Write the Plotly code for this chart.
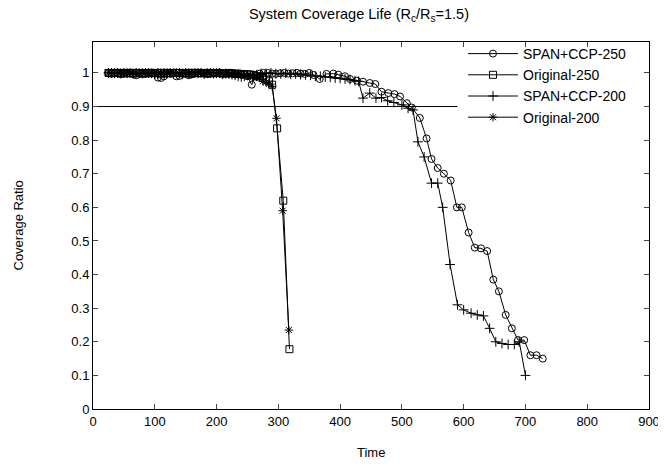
import plotly.graph_objects as go

# ---- data ----
time_early = [25, 30, 35, 40, 45, 50, 55, 60, 65, 70, 75, 80, 85, 90, 95, 100,
              105, 110, 115, 120, 125, 130, 135, 140, 145, 150, 155, 160, 165,
              170, 175, 180, 185, 190, 195, 200, 205, 210, 215, 220, 225, 230,
              235, 240, 245, 250]

span250_early = [1.0, 0.998, 1.0, 0.999, 0.997, 1.0, 0.998, 0.999, 0.996, 0.993,
                 1.0, 0.998, 0.997, 1.0, 0.999, 0.998, 0.986, 0.985, 0.99, 0.999,
                 0.998, 1.0, 0.99, 0.991, 0.998, 0.999, 0.993, 0.996, 1.0, 0.998,
                 0.999, 1.0, 0.997, 0.998, 1.0, 0.999, 0.998, 0.997, 1.0, 0.998,
                 0.999, 0.996, 0.998, 0.995, 0.997, 0.99]
span250_late_t = [257, 263, 270, 276, 283, 290, 296, 303, 310, 316, 323, 330, 336,
                  343, 350, 357, 367, 378, 389, 397, 408, 416, 427, 437, 448, 457,
                  467, 478, 488, 497, 508, 516, 529, 540, 548, 558, 568, 579, 589,
                  597, 608, 618, 628, 638, 648, 657, 668, 678, 688, 698, 708, 718, 728]
span250_late = [0.965, 0.99, 0.998, 1.0, 1.0, 0.998, 0.997, 0.999, 1.0, 0.998,
                0.999, 1.0, 0.998, 0.997, 1.0, 0.994, 0.982, 0.997, 0.998, 0.995,
                0.99, 0.982, 0.977, 0.974, 0.97, 0.967, 0.944, 0.94, 0.937, 0.93,
                0.91, 0.897, 0.866, 0.805, 0.744, 0.717, 0.70, 0.68, 0.60, 0.60,
                0.525, 0.48, 0.478, 0.47, 0.385, 0.35, 0.28, 0.24, 0.205, 0.205,
                0.16, 0.16, 0.15]

span200_early = [1.0, 1.0, 0.999, 1.0, 0.998, 1.0, 0.999, 1.0, 0.997, 1.0,
                 0.999, 0.998, 1.0, 1.0, 0.999, 0.997, 1.0, 0.998, 1.0, 0.999,
                 1.0, 0.998, 0.999, 1.0, 0.997, 1.0, 0.999, 0.998, 1.0, 0.999,
                 1.0, 0.997, 0.999, 1.0, 0.998, 0.999, 1.0, 0.996, 0.998, 0.997,
                 0.995, 0.993, 0.99, 0.988, 0.99, 0.993]
span200_late_t = [258, 265, 272, 280, 288, 296, 304, 312, 320, 328, 336, 344, 352,
                  360, 368, 376, 384, 392, 400, 408, 416, 424, 430, 437, 448, 458,
                  467, 477, 487, 500, 510, 518, 526, 536, 548, 558, 566, 578, 590,
                  600, 612, 622, 632, 642, 652, 662, 672, 682, 690, 700]
span200_late = [0.99, 0.995, 0.998, 0.998, 1.0, 0.998, 0.997, 0.999, 0.996, 0.997,
                0.995, 0.994, 0.993, 0.99, 0.99, 0.988, 0.987, 0.985, 0.984, 0.982,
                0.98, 0.977, 0.975, 0.925, 0.94, 0.925, 0.927, 0.917, 0.912, 0.905,
                0.895, 0.89, 0.795, 0.75, 0.672, 0.672, 0.60, 0.43, 0.31, 0.295,
                0.285, 0.28, 0.277, 0.24, 0.20, 0.195, 0.192, 0.192, 0.20, 0.10]

orig250_early = [1.0, 0.999, 1.0, 1.0, 0.998, 1.0, 0.999, 1.0, 1.0, 0.999,
                 1.0, 0.998, 1.0, 0.999, 1.0, 1.0, 0.999, 1.0, 0.998, 1.0,
                 0.999, 1.0, 1.0, 0.999, 1.0, 0.998, 1.0, 0.999, 1.0, 1.0,
                 0.999, 1.0, 0.998, 1.0, 0.999, 1.0, 1.0, 0.999, 0.998, 1.0,
                 0.999, 0.997, 0.998, 0.996, 0.995, 0.996]
orig250_late_t = [255, 260, 265, 270, 275, 280, 285, 290, 298, 308, 318]
orig250_late = [0.995, 0.994, 0.99, 0.99, 0.985, 0.98, 0.975, 0.965, 0.835, 0.62, 0.178]

orig200_early = [1.0, 1.0, 0.999, 1.0, 1.0, 0.998, 1.0, 0.999, 1.0, 1.0,
                 0.999, 1.0, 1.0, 0.998, 1.0, 0.999, 1.0, 1.0, 0.999, 1.0,
                 1.0, 0.999, 1.0, 0.998, 1.0, 1.0, 0.999, 1.0, 0.999, 1.0,
                 1.0, 0.998, 1.0, 0.999, 1.0, 0.999, 1.0, 0.998, 0.999, 0.997,
                 0.998, 0.996, 0.997, 0.995, 0.994, 0.993]
orig200_late_t = [255, 260, 265, 270, 275, 280, 285, 290, 297, 307, 317]
orig200_late = [0.992, 0.99, 0.988, 0.985, 0.975, 0.972, 0.968, 0.96, 0.865, 0.59, 0.235]

threshold_x = [0, 590]
threshold_y = [0.9, 0.9]

x_ticks = [0, 100, 200, 300, 400, 500, 600, 700, 800, 900]
y_ticks = [0, 0.1, 0.2, 0.3, 0.4, 0.5, 0.6, 0.7, 0.8, 0.9, 1]
y_tick_text = ["0", "0.1", "0.2", "0.3", "0.4", "0.5", "0.6", "0.7", "0.8", "0.9", "1"]

series = [
    ("SPAN+CCP-250", time_early + span250_late_t, span250_early + span250_late, "circle-open", 7),
    ("Original-250", time_early + orig250_late_t, orig250_early + orig250_late, "square-open", 7),
    ("SPAN+CCP-200", time_early + span200_late_t, span200_early + span200_late, "cross-thin-open", 7),
    ("Original-200", time_early + orig200_late_t, orig200_early + orig200_late, "asterisk-open", 7),
]

FONT = "Liberation Sans, Arial, Helvetica, sans-serif"
# page body adds an 8px offset; the figure is sized so it fills the window
OFF = 8
W, H = 666 - OFF, 468 - OFF
# plot area in window pixels: x 93..649, y 42..409
ML, MR, MT, MB = 93 - OFF, 666 - 649, 42 - OFF, 468 - 409
PW, PH = W - ML - MR, H - MT - MB


def px_x(x):  # window px -> paper x
    return (x - OFF - ML) / PW


def px_y(y):  # window px -> paper y
    return (H - MB - (y - OFF)) / PH


fig = go.Figure()

fig.add_trace(go.Scatter(x=threshold_x, y=threshold_y, mode="lines",
                         line=dict(color="black", width=1), showlegend=False,
                         hoverinfo="skip"))

for name, xs, ys, sym, size in series:
    fig.add_trace(go.Scatter(
        x=xs, y=ys, name=name, mode="lines+markers",
        line=dict(color="black", width=1),
        marker=dict(symbol=sym, size=size, color="black",
                    line=dict(color="black", width=1)),
    ))

fig.update_layout(
    width=W, height=H,
    margin=dict(l=ML, r=MR, t=MT, b=MB, autoexpand=False),
    paper_bgcolor="white", plot_bgcolor="white",
    font=dict(family=FONT, size=13, color="black"),
    title=dict(text="System Coverage Life (R<sub>c</sub>/R<sub>s</sub>=1.5)",
               x=(359 - OFF) / W, xref="container", xanchor="center",
               y=1 - 1 / H, yref="container", yanchor="top",
               font=dict(size=14.5)),
    legend=dict(x=px_x(632), y=px_y(38), xanchor="right", yanchor="top",
                bgcolor="rgba(0,0,0,0)", font=dict(size=14),
                tracegroupgap=0, itemwidth=50),
    showlegend=True,
    annotations=[
        dict(text="Coverage Ratio", textangle=-90, xref="paper", yref="paper",
             x=px_x(18), y=0.5, xanchor="center", yanchor="middle",
             showarrow=False, font=dict(size=13)),
        dict(text="Time", xref="paper", yref="paper",
             x=px_x(371), y=px_y(452), xanchor="center",
             yanchor="middle", showarrow=False, font=dict(size=13)),
    ],
)

fig.update_xaxes(range=[0, 900], tickvals=x_ticks, ticks="inside", ticklen=5,
                 mirror="allticks", showline=True, linecolor="black", linewidth=1,
                 showgrid=False, zeroline=False, tickfont=dict(size=13),
                 automargin=False)
fig.update_yaxes(range=[0, 1.092], tickvals=y_ticks, ticktext=y_tick_text,
                 ticks="inside", ticklen=5, mirror="allticks", showline=True,
                 linecolor="black", linewidth=1, showgrid=False, zeroline=False,
                 tickfont=dict(size=13), automargin=False)

fig.write_html("out.html")
